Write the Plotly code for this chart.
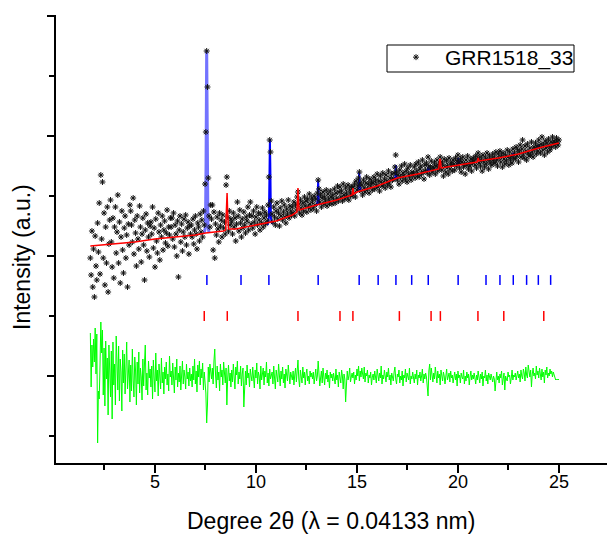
import numpy as np
import plotly.graph_objects as go

# ---------------- data (intensity in arbitrary units) ----------------
two_theta = np.round(np.arange(1.80, 25.0001, 0.04), 2)

obs_rows = [
    [205, 188, 232, 176, 214, 166, 227, 197, 183, 240, 211, 260, 189, 288, 224, 281, 205, 250, 178, 236, 200, 256, 171, 219, 243],
    [263, 221, 196, 245, 185, 236, 256, 210, 231, 268, 200, 241, 180, 226, 252, 213, 190, 235, 247, 205, 228, 176, 239, 218, 258],
    [252, 238, 221, 265, 209, 243, 230, 197, 247, 224, 214, 257, 236, 201, 229, 245, 218, 183, 233, 249, 212, 240, 226, 206, 237],
    [241, 229, 256, 215, 235, 196, 244, 222, 210, 250, 231, 203, 238, 226, 247, 213, 233, 242, 220, 230, 253, 217, 236, 228, 245],
    [236, 245, 224, 250, 216, 238, 229, 207, 242, 186, 233, 247, 221, 239, 212, 231, 244, 226, 248, 218, 235, 241, 209, 237, 229],
    [238, 226, 244, 219, 233, 247, 229, 214, 240, 236, 222, 249, 231, 243, 226, 252, 238, 279, 331, 412, 376, 285, 247, 236, 258],
    [244, 258, 213, 251, 205, 239, 228, 246, 234, 221, 250, 237, 243, 226, 248, 235, 241, 229, 278, 286, 246, 232, 252, 238, 244],
    [241, 229, 250, 236, 245, 222, 239, 261, 247, 232, 253, 240, 226, 244, 235, 251, 238, 230, 246, 242, 256, 233, 248, 261, 239],
    [247, 235, 252, 241, 229, 246, 256, 238, 250, 243, 233, 249, 240, 255, 236, 245, 251, 239, 248, 242, 258, 286, 323, 311, 262],
    [249, 241, 256, 246, 238, 252, 260, 244, 250, 237, 255, 247, 262, 243, 251, 258, 246, 240, 254, 249, 263, 245, 257, 252, 248],
    [256, 250, 261, 247, 258, 253, 266, 271, 259, 250, 263, 255, 248, 260, 252, 266, 257, 262, 251, 264, 256, 269, 259, 253, 265],
    [262, 255, 267, 258, 264, 252, 270, 283, 274, 261, 268, 256, 265, 271, 259, 266, 262, 273, 257, 269, 264, 260, 272, 266, 259],
    [268, 263, 274, 260, 270, 265, 277, 262, 271, 276, 266, 272, 262, 279, 268, 264, 275, 270, 266, 278, 263, 273, 269, 276, 267],
    [276, 270, 279, 266, 282, 273, 277, 285, 291, 280, 272, 278, 268, 283, 275, 271, 280, 286, 274, 279, 270, 284, 277, 281, 273],
    [280, 286, 274, 283, 278, 289, 276, 282, 272, 287, 281, 277, 290, 279, 284, 275, 288, 282, 278, 292, 280, 285, 276, 289, 283],
    [284, 290, 296, 308, 291, 283, 288, 279, 293, 286, 297, 282, 290, 287, 299, 284, 292, 281, 295, 289, 286, 298, 283, 291, 288],
    [290, 296, 285, 299, 292, 288, 301, 286, 294, 297, 289, 303, 291, 284, 298, 293, 300, 290, 306, 297, 288, 295, 302, 291, 296],
    [294, 300, 289, 297, 303, 292, 298, 295, 306, 301, 293, 299, 287, 304, 296, 291, 302, 297, 289, 305, 294, 300, 298, 292, 303],
    [299, 293, 305, 297, 302, 308, 300, 295, 304, 291, 301, 306, 296, 299, 289, 303, 298, 307, 294, 300, 297, 304, 292, 301, 305],
    [302, 298, 307, 295, 304, 310, 300, 306, 297, 303, 292, 308, 301, 296, 305, 299, 310, 303, 294, 307, 300, 304, 298, 309, 302],
    [306, 300, 311, 303, 297, 309, 305, 312, 301, 307, 296, 310, 304, 299, 308, 302, 313, 306, 298, 311, 303, 307, 300, 314, 305],
    [310, 304, 316, 307, 313, 301, 311, 318, 306, 314, 323, 309, 305, 317, 312, 303, 319, 310, 307, 315, 308, 321, 311, 306, 316],
    [314, 320, 309, 317, 312, 323, 316, 310, 319, 326, 313, 318, 308, 322, 315, 320, 311, 324, 317, 313, 321, 316, 326, 319, 322],
    [320, 316, 325, 321, 318, 323],
]
observed = [v for row in obs_rows for v in row]

diff_rows = [
    [130, 76, 118, 96, 124, 101, 135, 89, 129, 20, 72, 64, 98, 141, 110, 133, 68, 115, 57, 122, 84, 105, 48, 118, 92],
    [66, 112, 44, 121, 78, 99, 58, 127, 86, 73, 117, 62, 104, 91, 52, 113, 80, 109, 69, 95, 121, 74, 88, 103, 61],
    [98, 72, 114, 83, 66, 106, 92, 58, 101, 79, 111, 70, 95, 86, 63, 104, 77, 99, 118, 73, 90, 68, 102, 85, 94],
    [76, 97, 64, 103, 85, 71, 110, 82, 93, 67, 99, 88, 74, 105, 80, 91, 69, 96, 84, 101, 78, 89, 72, 107, 86],
    [92, 78, 100, 85, 70, 96, 83, 104, 76, 90, 81, 97, 73, 88, 102, 79, 93, 86, 74, 99, 84, 91, 77, 95, 82],
    [89, 76, 97, 83, 104, 79, 92, 71, 98, 86, 102, 78, 94, 85, 100, 73, 91, 80, 70, 40, 58, 96, 81, 99, 88],
    [84, 95, 79, 102, 114, 88, 75, 97, 83, 91, 72, 99, 86, 93, 78, 101, 87, 80, 95, 58, 85, 98, 82, 90, 76],
    [93, 81, 99, 86, 74, 96, 88, 102, 79, 91, 84, 97, 77, 89, 95, 56, 83, 92, 78, 98, 85, 90, 76, 94, 87],
    [82, 96, 88, 75, 93, 85, 100, 79, 91, 87, 74, 97, 83, 89, 95, 78, 92, 86, 101, 80, 90, 77, 94, 84, 88],
    [91, 79, 97, 85, 74, 93, 88, 81, 99, 86, 77, 92, 84, 96, 80, 89, 75, 94, 87, 82, 98, 85, 79, 91, 86],
    [83, 92, 78, 88, 95, 81, 90, 103, 84, 76, 93, 87, 80, 96, 85, 91, 78, 89, 94, 82, 87, 79, 92, 86, 90],
    [84, 91, 79, 88, 94, 82, 87, 102, 89, 77, 85, 92, 80, 95, 86, 78, 90, 84, 93, 81, 88, 75, 91, 85, 89],
    [82, 90, 86, 79, 94, 83, 88, 76, 91, 85, 80, 93, 87, 74, 89, 84, 61, 78, 92, 83, 87, 95, 81, 86, 90],
    [85, 91, 79, 88, 83, 94, 87, 97, 82, 92, 86, 95, 89, 84, 96, 81, 90, 87, 93, 80, 88, 85, 91, 78, 86],
    [89, 83, 92, 86, 80, 94, 87, 82, 90, 85, 97, 79, 88, 84, 93, 87, 81, 91, 86, 95, 83, 88, 78, 90, 85],
    [82, 91, 96, 84, 79, 89, 86, 93, 80, 87, 83, 92, 77, 88, 85, 94, 81, 90, 86, 83, 95, 79, 87, 84, 91],
    [86, 80, 89, 84, 93, 78, 88, 85, 91, 82, 87, 94, 80, 89, 84, 90, 86, 79, 67, 92, 99, 83, 95, 88, 81],
    [90, 84, 96, 87, 80, 92, 85, 89, 78, 93, 86, 82, 91, 87, 79, 88, 94, 83, 86, 90, 81, 92, 85, 88, 80],
    [87, 91, 83, 89, 77, 92, 85, 88, 80, 90, 86, 84, 93, 79, 87, 82, 91, 85, 89, 78, 86, 92, 83, 88, 84],
    [90, 85, 79, 88, 83, 92, 86, 80, 89, 84, 91, 77, 87, 85, 93, 82, 88, 79, 90, 86, 83, 89, 85, 81, 87],
    [84, 72, 88, 91, 83, 87, 80, 89, 85, 92, 78, 86, 90, 73, 87, 84, 82, 91, 86, 88, 79, 85, 93, 83, 88],
    [86, 90, 83, 88, 92, 85, 89, 81, 93, 87, 84, 94, 90, 82, 96, 88, 85, 98, 91, 86, 93, 76, 89, 95, 87],
    [90, 84, 97, 88, 92, 85, 95, 89, 83, 94, 86, 91, 80, 93, 88, 96, 85, 90, 87, 94, 89, 92, 86, 91, 88],
    [86, 83, 84, 83, 84, 83],
]
difference = [v for row in diff_rows for v in row]

# calculated profile, phase 2 (red) including background
calc_red_x = [1.80, 3.0, 4.0, 5.0, 6.0, 7.0, 7.5, 8.4, 8.50, 8.54, 8.57, 8.60, 8.64, 9.0, 10.0, 11.0, 11.8,
              12.0, 12.03, 12.06, 12.08, 12.10, 12.14, 13.0, 14.0, 14.76, 14.80, 14.84, 15.0, 16.0, 17.0, 18.0,
              19.05, 19.10, 19.13, 19.17, 20.0, 20.95, 21.0, 21.04, 22.0, 23.0, 24.0, 25.0]
calc_red_y = [217, 219, 221, 224, 226, 228, 230, 232, 233, 255, 270, 250, 234, 234, 238, 242, 248,
              250, 251, 265, 275, 262, 253, 258, 263, 268, 275, 269, 271, 277, 285, 289,
              294, 304, 303, 295, 298, 301, 305, 302, 305, 309, 315, 320]

# calculated profile, phase 1 (blue) around its reflections
main_peak_x = [7.44, 7.50, 7.53, 7.56, 7.59, 7.62, 7.68]
main_peak_y = [230, 236, 300, 413, 330, 238, 230]
calc_blue_x = [10.58, 10.64, 10.67, 10.69, 10.71, 10.74, 10.80, None,
               13.00, 13.05, 13.08, 13.11, 13.16, None,
               15.03, 15.08, 15.11, 15.14, 15.19, None,
               16.85, 16.90, 16.93, 16.96, 17.01, None,
               18.46, 18.51, 18.53, 18.56, 18.60, None,
               19.94, 19.98, 20.01, 20.04, 20.08, None,
               22.68, 22.72, 22.74, 22.77, 22.81, None,
               23.93, 23.96, 23.98, 24.01, 24.04]
calc_blue_y = [238, 246, 290, 324, 300, 245, 239, None,
               257, 262, 283, 263, 258, None,
               272, 276, 291, 277, 273, None,
               283, 286, 298, 287, 284, None,
               291, 293, 296, 293, 292, None,
               298, 300, 305, 300, 299, None,
               307, 308, 310, 308, 308, None,
               315, 316, 318, 316, 316]

# reflection positions
refl_phase1 = [7.57, 9.26, 10.64, 13.08, 15.11, 16.05, 16.93, 17.71, 18.53, 20.01,
               21.39, 22.08, 22.74, 23.40, 23.98, 24.59]
refl_phase2 = [7.44, 8.58, 12.08, 14.16, 14.80, 17.10, 18.67, 19.13, 20.99, 22.27, 24.25]
refl_level_1 = 183
refl_level_2 = 147

FONT = "Liberation Sans, Arial, sans-serif"
X_RANGE = [0.1, 27.38]
Y_RANGE = [0, 448]

fig = go.Figure()

fig.add_trace(go.Scatter(x=main_peak_x, y=main_peak_y, mode="lines",
                         line=dict(color="rgba(90,90,255,0.85)", width=3), showlegend=False))
fig.add_trace(go.Scatter(x=calc_blue_x, y=calc_blue_y, mode="lines",
                         line=dict(color="#0000ff", width=2), showlegend=False, connectgaps=False))
fig.add_trace(go.Scatter(x=two_theta, y=observed, mode="markers", name="GRR1518_33",
                         marker=dict(symbol="asterisk-open", size=5, color="#111111",
                                     line=dict(color="#111111", width=1))))
fig.add_trace(go.Scatter(x=calc_red_x, y=calc_red_y, mode="lines",
                         line=dict(color="#ff0000", width=1.5), showlegend=False))
fig.add_trace(go.Scatter(x=refl_phase1, y=[refl_level_1] * len(refl_phase1), mode="markers",
                         marker=dict(symbol="line-ns-open", size=7, color="#0000ff",
                                     line=dict(color="#0000ff", width=1.5)), showlegend=False))
# this trace sits on the label-only x axis (same range as the main one)
fig.add_trace(go.Scatter(x=refl_phase2, y=[refl_level_2] * len(refl_phase2), mode="markers",
                         xaxis="x3", yaxis="y",
                         marker=dict(symbol="line-ns-open", size=7, color="#ff0000",
                                     line=dict(color="#ff0000", width=1.5)), showlegend=False))
fig.add_trace(go.Scatter(x=two_theta, y=difference, mode="lines",
                         line=dict(color="#00ff00", width=1), showlegend=False))

PLOT_L, PLOT_T, PLOT_W, PLOT_H = 56, 15, 551, 448


def px_to_paper_x(px):
    return (px - PLOT_L) / PLOT_W


def px_to_paper_y(py):
    return (PLOT_T + PLOT_H - py) / PLOT_H


fig.update_layout(
    width=607, height=535,
    margin=dict(l=56, r=0, t=15, b=72),
    plot_bgcolor="white", paper_bgcolor="white",
    font=dict(family=FONT, color="black"),
    xaxis=dict(range=X_RANGE, showline=True, linecolor="black", linewidth=1.5,
               ticks="outside", ticklen=8, tickwidth=1.5, tickcolor="black",
               tick0=0, dtick=5, showticklabels=False,
               minor=dict(ticks="outside", ticklen=5, tickwidth=1.5, tickcolor="black",
                          tick0=0, dtick=2.5, showgrid=False),
               showgrid=False, zeroline=False),
    xaxis3=dict(range=X_RANGE, overlaying="x", anchor="y", side="bottom", showline=False,
                ticks="outside", ticklen=2, tickcolor="rgba(0,0,0,0)",
                tick0=0, dtick=5, showticklabels=True,
                tickfont=dict(size=18, family=FONT, color="black"),
                showgrid=False, zeroline=False),
    xaxis2=dict(range=X_RANGE, overlaying="x", side="top", showline=True, linecolor="black",
                linewidth=1.5, ticks="inside", ticklen=9, tickwidth=1.5, tickcolor="black",
                tick0=0, dtick=5, showticklabels=False,
                minor=dict(ticks="inside", ticklen=5, tickwidth=1.5, tickcolor="black",
                           tick0=0, dtick=2.5, showgrid=False),
                showgrid=False, zeroline=False),
    yaxis=dict(range=Y_RANGE, showline=True, linecolor="black", linewidth=1.5,
               ticks="outside", ticklen=7, tickwidth=1.5, tickcolor="black",
               tick0=87, dtick=120, showticklabels=False,
               minor=dict(ticks="outside", ticklen=5, tickwidth=1.5, tickcolor="black",
                          tick0=27, dtick=60, showgrid=False),
               showgrid=False, zeroline=False),
    yaxis2=dict(range=Y_RANGE, overlaying="y", side="right", showline=False,
                ticks="inside", ticklen=7, tickwidth=1.5, tickcolor="black",
                tick0=87, dtick=120, showticklabels=False,
                minor=dict(ticks="inside", ticklen=3, tickwidth=1.5, tickcolor="black",
                           tick0=27, dtick=60, showgrid=False),
                showgrid=False, zeroline=False),
    legend=dict(x=px_to_paper_x(387), y=px_to_paper_y(37), xanchor="left", yanchor="top",
                borderwidth=0, bgcolor="rgba(0,0,0,0)",
                font=dict(size=21, family=FONT, color="black"), itemwidth=48),
    shapes=[
        dict(type="rect", xref="paper", yref="paper",
             x0=px_to_paper_x(387), x1=px_to_paper_x(574),
             y0=px_to_paper_y(72), y1=px_to_paper_y(45),
             line=dict(color="black", width=1), fillcolor="white", layer="above"),
    ],
    annotations=[
        dict(text="Degree 2θ (λ = 0.04133 nm)", xref="paper", yref="paper",
             x=px_to_paper_x(331), y=px_to_paper_y(521), xanchor="center", yanchor="middle",
             showarrow=False, font=dict(size=23, family=FONT, color="black")),
        dict(text="Intensity (a.u.)", xref="paper", yref="paper", textangle=-90,
             x=px_to_paper_x(22), y=px_to_paper_y(257), xanchor="center", yanchor="middle",
             showarrow=False, font=dict(size=23, family=FONT, color="black")),
    ],
)

fig.write_html("out.html")
